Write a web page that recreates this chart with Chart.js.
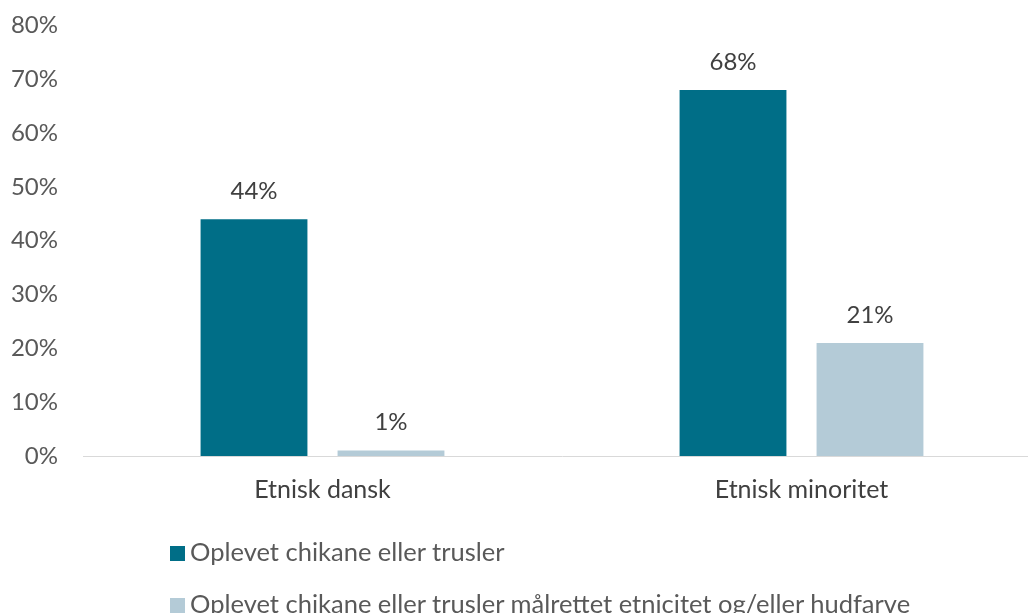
<!DOCTYPE html>
<html>
<head>
<meta charset="utf-8">
<script src="https://cdn.jsdelivr.net/npm/chart.js@4"></script>
<style>
  body { margin: 0; background: #fff; overflow: hidden; }
  #wrap { position: relative; width: 1028px; height: 613px; overflow: hidden; }
  #chart { position: absolute; left: 0; top: -6px; }
  #legend { position: absolute; left: 170px; top: 532px; font-family: Lato, sans-serif; font-size: 25.5px; color: #595959; }
  #legend div { height: 52px; line-height: 38px; white-space: nowrap; }
  #legend span.box { display: inline-block; width: 15px; height: 15px; margin-right: 5px; vertical-align: 0px; }
</style>
</head>
<body>
<div id="wrap">
  <canvas id="chart" width="1041" height="619"></canvas>
  <div id="legend"></div>
</div>
<script>
const categories = ["Etnisk dansk", "Etnisk minoritet"]
const seriesNames = [
    "Oplevet chikane eller trusler",
    "Oplevet chikane eller trusler målrettet etnicitet og/eller hudfarve"
]
const chikane = [44, 68]
const etnicitet = [1, 21]
const colors = ["#006E87", "#B4CBD7"]
const yTicks = [0, 10, 20, 30, 40, 50, 60, 70, 80]

const font = "Lato, sans-serif"

// labels over each bar
const valueLabels = {
    id: "valueLabels",
    afterDatasetsDraw(chart){
        const ctx = chart.ctx
        ctx.save()
        ctx.font = "24px " + font
        ctx.fillStyle = "#404040"
        ctx.textAlign = "center"
        ctx.textBaseline = "bottom"
        chart.data.datasets.forEach((ds, i) => {
            chart.getDatasetMeta(i).data.forEach((bar, j) => {
                ctx.fillText(ds.data[j] + "%", bar.x, bar.y - 16)
            })
        })
        ctx.restore()
    }
}

new Chart(document.getElementById("chart"), {
    type: "bar",
    data: {
        labels: categories,
        datasets: [
            { label: seriesNames[0], data: chikane, backgroundColor: colors[0] },
            { label: seriesNames[1], data: etnicitet, backgroundColor: colors[1] }
        ]
    },
    options: {
        responsive: false,
        animation: false,
        layout: { padding: 0 },
        categoryPercentage: 0.572,
        barPercentage: 0.78,
        plugins: {
            legend: { display: false },
            tooltip: { enabled: false }
        },
        scales: {
            x: {
                grid: { display: false },
                border: { color: "#D9D9D9", width: 1 },
                ticks: { color: "#404040", font: { family: font, size: 25 }, padding: 11 },
                afterFit(scale){ scale.height = 157 }
            },
            y: {
                min: 0,
                max: 80,
                afterBuildTicks(scale){ scale.ticks = yTicks.map(v => ({ value: v })) },
                grid: { display: false },
                border: { display: false },
                ticks: {
                    color: "#595959",
                    font: { family: font, size: 24 },
                    padding: 17,
                    callback: v => v + "%"
                },
                afterFit(scale){ scale.width = 83 }
            }
        }
    },
    plugins: [valueLabels]
})

// legend, one item per row like the original
document.getElementById("legend").innerHTML = seriesNames.map((n, i) =>
    `<div><span class="box" style="background:${colors[i]}"></span>${n}</div>`
).join("")
</script>
</body>
</html>
